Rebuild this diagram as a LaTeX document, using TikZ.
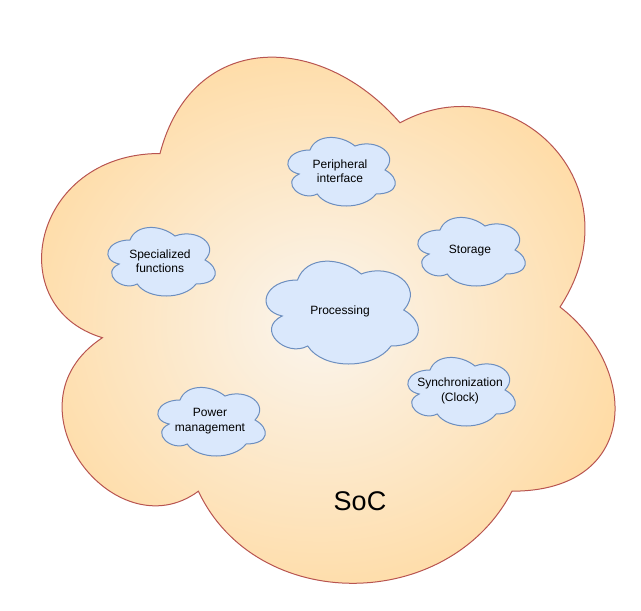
\documentclass[tikz,border=0pt]{standalone}
\usepackage{fontspec}
\setmainfont{Liberation Sans}
\definecolor{socinner}{HTML}{FAF5EE}
\definecolor{socouter}{HTML}{FFDBA4}
\definecolor{socline}{HTML}{B85450}
\definecolor{subfill}{HTML}{DAE8FC}
\definecolor{subline}{HTML}{6C8EBF}
\newcommand\cloudpath[5]{%
  \path[#1] ({#2+0.25*#4},{#3+0.25*#5})
    .. controls ({#2+0.05*#4},{#3+0.25*#5}) and ({#2},{#3+0.5*#5}) .. ({#2+0.16*#4},{#3+0.55*#5})
    .. controls ({#2},{#3+0.66*#5}) and ({#2+0.18*#4},{#3+0.9*#5}) .. ({#2+0.31*#4},{#3+0.8*#5})
    .. controls ({#2+0.4*#4},{#3+#5}) and ({#2+0.7*#4},{#3+#5}) .. ({#2+0.8*#4},{#3+0.8*#5})
    .. controls ({#2+#4},{#3+0.8*#5}) and ({#2+#4},{#3+0.6*#5}) .. ({#2+0.875*#4},{#3+0.5*#5})
    .. controls ({#2+#4},{#3+0.3*#5}) and ({#2+0.8*#4},{#3+0.1*#5}) .. ({#2+0.625*#4},{#3+0.2*#5})
    .. controls ({#2+0.5*#4},{#3+0.05*#5}) and ({#2+0.3*#4},{#3+0.05*#5}) .. ({#2+0.25*#4},{#3+0.25*#5})
    -- cycle;}
\tikzset{
  soccloud/.style={shade, inner color=socinner, outer color=socouter, draw=socline, line width=1pt},
  subcloud/.style={fill=subfill, draw=subline, line width=1pt},
  sublabel/.style={font=\fontsize{12}{14.5}\selectfont, align=center, inner sep=0pt, text=black},
  soclabel/.style={font=\fontsize{27}{32}\selectfont, inner sep=0pt, text=black}
}
\begin{document}
\begin{tikzpicture}[x=1pt, y=-1pt]
\useasboundingbox (0,0) rectangle (641,611);
\cloudpath{soccloud}{0}{0}{640}{614}
\cloudpath{subcloud}{280}{130}{120}{80}
\cloudpath{subcloud}{255}{250}{170}{120}
\cloudpath{subcloud}{100}{220}{120}{80}
\cloudpath{subcloud}{410}{210}{120}{80}
\cloudpath{subcloud}{150}{380}{120}{80}
\cloudpath{subcloud}{400}{350}{120}{80}
\node[sublabel] (peri) at (340,171) {Peripheral\\interface};
\node[sublabel] (proc) at (340,311) {Processing};
\node[sublabel] (spec) at (160,261) {Specialized\\functions};
\node[sublabel] (stor) at (470,251) {Storage};
\node[sublabel] (powr) at (210,421) {Power\\management};
\node[sublabel] (sync) at (460,391) {Synchronization\\(Clock)};
\node[soclabel] (soc) at (360,501) {SoC};
\end{tikzpicture}
\end{document}
